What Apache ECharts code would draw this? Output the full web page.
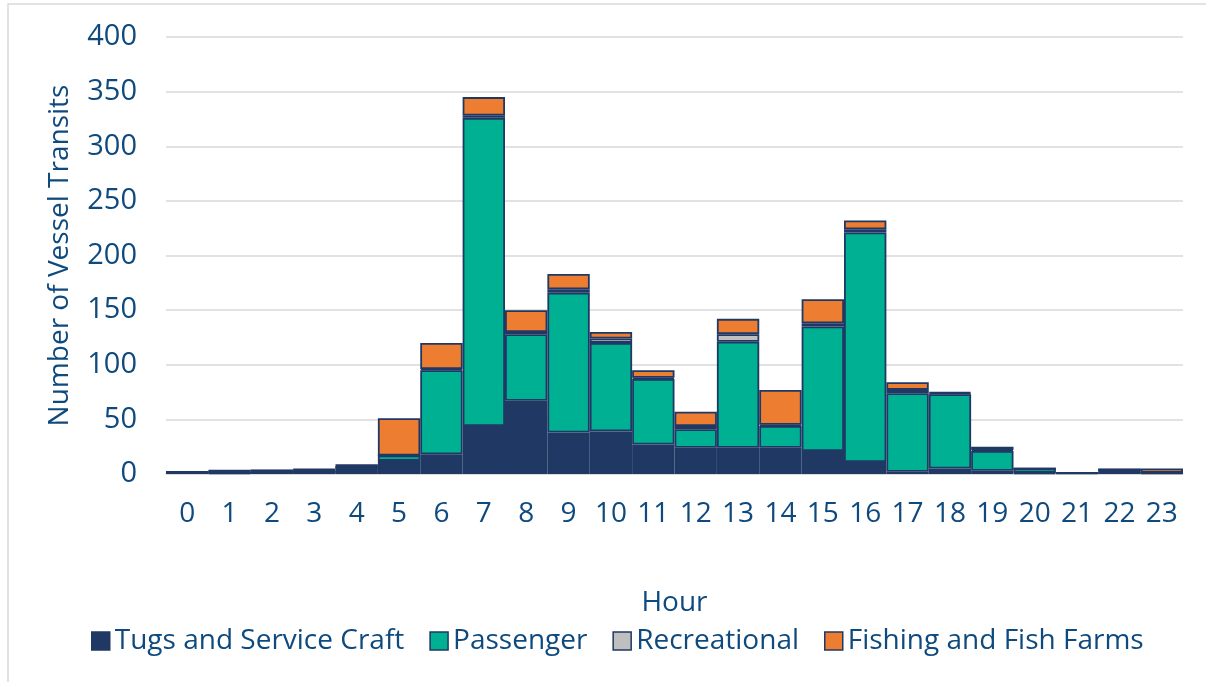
<!DOCTYPE html>
<html>
<head>
<meta charset="utf-8">
<script src="https://cdn.jsdelivr.net/npm/echarts@6/dist/echarts.min.js"></script>
<style>
html,body{margin:0;padding:0;background:#fff;}
#c{width:1206px;height:682px;}
</style>
</head>
<body>
<div id="c"></div>
<script>
const hours = ['0','1','2','3','4','5','6','7','8','9','10','11','12','13','14','15','16','17','18','19','20','21','22','23'];
const tugs = [2,1,3,2,6,12,18,44,67,38,39,27,24,24,24,21,11,2,5,3,1,1,4,1];
const passenger = [0,0,0,0,0,5,77,282,61,128,81,60,17,97,20,114,210,72,68,18,4,0,0,0];
const recreational = [0,0,0,0,0,0,1,2,2,3,4,1,3,7,1,3,3,3,1,1,0,0,0,0];
const fishing = [0,3,0,3,3,34,24,17,20,14,6,7,13,14,32,22,8,7,1,3,0,0,0,4];
const yTicks = [0,50,100,150,200,250,300,350,400];

const textColor = '#0F4A7E';
const font = 'Open Sans';
const edge = '#203864';
function mk(name, data, color){
  return {name, type:'bar', stack:'all', data, barCategoryGap:'0%',
    itemStyle:{color, borderColor:edge, borderWidth:1.8}};
}
const chart = echarts.init(document.getElementById('c'));
chart.setOption({
  animation:false,
  textStyle:{fontFamily:font},
  graphic:[{type:'rect', shape:{x:8,y:4,width:1300,height:800}, style:{fill:'none', stroke:'#D9D9D9', lineWidth:1.5}, silent:true}],
  grid:{left:166, right:23, top:37, bottom:208},
  legend:{
    bottom:22, left:86, itemWidth:18, itemHeight:18, itemGap:25,
    icon:'rect',
    textStyle:{color:textColor, fontSize:28, fontFamily:font},
    itemStyle:{borderColor:edge, borderWidth:1.5},
    data:['Tugs and Service Craft','Passenger','Recreational','Fishing and Fish Farms']
  },
  xAxis:{
    type:'category', data:hours,
    name:'Hour', nameLocation:'middle', nameGap:115,
    nameTextStyle:{color:textColor, fontSize:28, fontFamily:font},
    axisLine:{lineStyle:{color:'#D9D9D9', width:1.5}},
    axisTick:{show:false},
    axisLabel:{color:textColor, fontSize:28, margin:26, fontFamily:font}
  },
  yAxis:{
    type:'value', min:yTicks[0], max:yTicks[yTicks.length-1], interval:50,
    name:'Number of Vessel Transits', nameLocation:'middle', nameGap:92,
    nameTextStyle:{color:textColor, fontSize:28, fontFamily:font},
    axisLine:{show:false}, axisTick:{show:false},
    splitLine:{lineStyle:{color:'#D9D9D9', width:1.5}},
    axisLabel:{color:textColor, fontSize:29, margin:29, fontFamily:font}
  },
  series:[
    mk('Tugs and Service Craft', tugs, '#203864'),
    mk('Passenger', passenger, '#00B092'),
    mk('Recreational', recreational, '#BFBFBF'),
    mk('Fishing and Fish Farms', fishing, '#ED7D31')
  ]
});
</script>
</body>
</html>
